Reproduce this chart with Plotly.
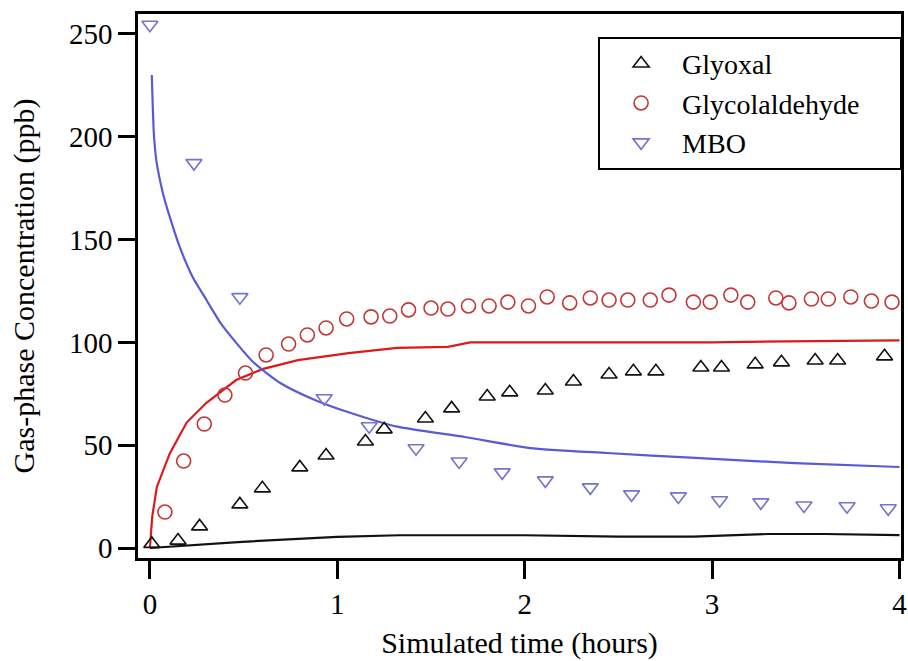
import plotly.graph_objects as go

# Measured data (markers)
glyoxal_t = [0.01, 0.15, 0.265, 0.48, 0.60, 0.80, 0.94, 1.15, 1.25, 1.47, 1.61, 1.80, 1.92, 2.11, 2.26,
             2.45, 2.58, 2.70, 2.94, 3.05, 3.23, 3.37, 3.55, 3.67, 3.92]
glyoxal_y = [2.0, 3.6, 10.5, 21.2, 29.0, 39.2, 45.0, 51.8, 57.7, 63.0, 67.9, 73.7, 75.7, 76.6, 81.0,
             84.4, 85.9, 85.9, 87.8, 87.8, 89.3, 90.3, 91.2, 91.2, 93.2]

glyco_t = [0.08, 0.18, 0.29, 0.40, 0.51, 0.62, 0.74, 0.84, 0.94, 1.05, 1.18, 1.28, 1.38, 1.50, 1.59,
           1.70, 1.81, 1.91, 2.02, 2.12, 2.24, 2.35, 2.45, 2.55, 2.67, 2.77, 2.90, 2.99, 3.10, 3.19,
           3.34, 3.41, 3.53, 3.62, 3.74, 3.85, 3.96]
glyco_y = [17.5, 42.3, 60.3, 74.4, 85.1, 93.9, 99.2, 103.6, 107.0, 111.4, 112.4, 112.8, 115.8, 116.7, 116.2,
           117.7, 117.7, 119.6, 117.7, 122.1, 119.2, 121.6, 120.6, 120.6, 120.6, 123.0, 119.6, 119.6, 123.0, 119.6,
           121.6, 119.2, 121.1, 121.1, 122.1, 120.1, 119.6]

mbo_t = [0.0, 0.235, 0.48, 0.93, 1.17, 1.42, 1.65, 1.88, 2.11, 2.35, 2.57, 2.82, 3.04, 3.26, 3.49, 3.72, 3.94]
mbo_y = [254.5, 187.2, 122.0, 72.8, 59.2, 48.5, 42.1, 36.8, 32.9, 29.5, 26.1, 25.1, 23.2, 22.2, 20.7, 20.3, 19.3]

# Model curves
glyoxal_model_t = [0.0, 0.47, 1.0, 1.33, 2.0, 2.5, 2.9, 3.3, 3.6, 4.0]
glyoxal_model_y = [0.0, 2.9, 5.4, 6.2, 6.2, 5.5, 5.5, 6.8, 6.8, 6.3]

glyco_model_t = [0.0, 0.012, 0.037, 0.106, 0.196, 0.30, 0.46, 0.60, 0.79, 1.06, 1.32, 1.59, 1.71, 3.0, 3.4, 4.0]
glyco_model_y = [0.0, 15.0, 29.7, 46.0, 61.0, 70.5, 81.7, 87.0, 91.4, 94.8, 97.3, 97.8, 100.0, 100.0, 100.5, 101.0]

mbo_model_t = [0.01, 0.014, 0.021, 0.035, 0.069, 0.106, 0.159, 0.228, 0.302, 0.38, 0.55, 0.70, 0.88, 1.06,
               1.32, 1.68, 2.03, 2.44, 2.91, 3.44, 4.0]
mbo_model_y = [230.0, 218.0, 201.5, 188.0, 172.7, 161.0, 146.4, 131.8, 120.6, 109.0, 90.5, 80.0, 72.0, 66.0,
               59.0, 54.0, 48.6, 46.2, 43.8, 41.3, 39.4]

x_ticks = [0, 1, 2, 3, 4]
y_ticks = [0, 50, 100, 150, 200, 250]

BLACK = "#111111"
RED_LINE = "#dd1a1a"
RED_MK = "#c23838"
BLUE_LINE = "#5a5ad6"
BLUE_MK = "#7474cc"

FONT = "Liberation Serif, Times New Roman, serif"
NB = "\u00a0"

fig = go.Figure()

# Model lines
fig.add_trace(go.Scatter(x=glyoxal_model_t, y=glyoxal_model_y, mode="lines",
                         line=dict(color=BLACK, width=2.2), showlegend=False, hoverinfo="skip"))
fig.add_trace(go.Scatter(x=glyco_model_t, y=glyco_model_y, mode="lines",
                         line=dict(color=RED_LINE, width=2.2), showlegend=False, hoverinfo="skip"))
fig.add_trace(go.Scatter(x=mbo_model_t, y=mbo_model_y, mode="lines",
                         line=dict(color=BLUE_LINE, width=2.2, shape="spline", smoothing=0.6),
                         showlegend=False, hoverinfo="skip"))

# Measurements
fig.add_trace(go.Scatter(x=glyoxal_t, y=glyoxal_y, mode="markers", name="Glyoxal",
                         marker=dict(symbol="triangle-up-open", size=14, color=BLACK,
                                     line=dict(width=1.6, color=BLACK))))
fig.add_trace(go.Scatter(x=glyco_t, y=glyco_y, mode="markers", name="Glycolaldehyde" + NB * 5,
                         marker=dict(symbol="circle-open", size=14, color=RED_MK,
                                     line=dict(width=1.6, color=RED_MK))))
fig.add_trace(go.Scatter(x=mbo_t, y=mbo_y, mode="markers", name="MBO",
                         marker=dict(symbol="triangle-down-open", size=14, color=BLUE_MK,
                                     line=dict(width=1.6, color=BLUE_MK))))

axis_common = dict(
    showgrid=False, zeroline=False, showline=True, linecolor="black", linewidth=2.5,
    mirror=True, ticks="outside", tickcolor="black", tickwidth=2.5,
    tickfont=dict(family=FONT, size=29, color="black"),
)

fig.update_xaxes(range=[-0.0636, 4.008], tickvals=x_ticks, ticklen=18, ticklabeloverflow="allow",
                 title=dict(text="Simulated time (hours)", font=dict(family=FONT, size=30, color="black"),
                            standoff=14),
                 **axis_common)
fig.update_yaxes(range=[-4.86, 259.7], tickvals=y_ticks, ticklen=17,
                 title=dict(text="Gas-phase Concentration (ppb)", font=dict(family=FONT, size=30, color="black"),
                            standoff=26),
                 **axis_common)

fig.update_layout(
    width=908, height=661,
    margin=dict(l=138, r=1, t=14, b=103),
    paper_bgcolor="white", plot_bgcolor="white",
    font=dict(family=FONT, size=29, color="black"),
    legend=dict(x=0.603, y=0.958, xanchor="left", yanchor="top",
                bgcolor="white", bordercolor="black", borderwidth=2,
                font=dict(family=FONT, size=28, color="black"),
                itemwidth=72, tracegroupgap=0),
)

fig.write_html("out.html")
